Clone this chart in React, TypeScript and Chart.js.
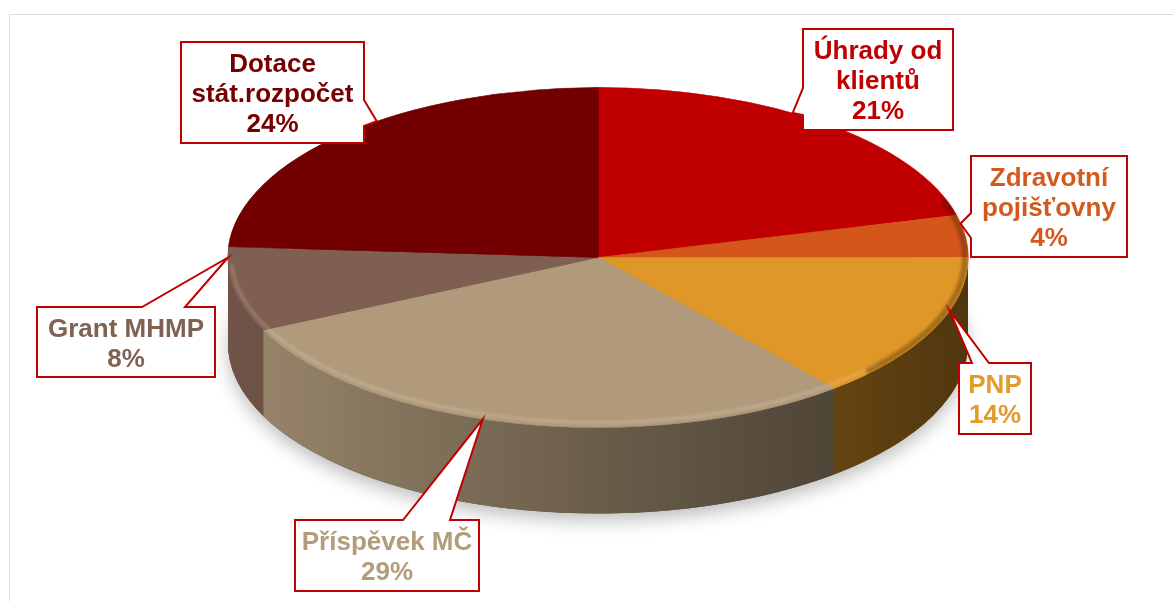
import React, { useEffect, useRef } from "react";
import { Chart, registerables } from "chart.js";

Chart.register(...registerables);

// ---- data ----
const categoryLines: string[][] = [
  ["Úhrady od", "klientů"],
  ["Zdravotní", "pojišťovny"],
  ["PNP"],
  ["Příspěvek MČ"],
  ["Grant MHMP"],
  ["Dotace", "stát.rozpočet"],
];
const shares = [21, 4, 14, 29, 8, 24];
const percentLabels = ["21%", "4%", "14%", "29%", "8%", "24%"];
const sliceColors = ["#C00000", "#D4561A", "#DF9727", "#B09A7B", "#7F5F51", "#720000"];
const labelColors = ["#C00000", "#D35A1E", "#E39B2E", "#B39C7C", "#806252", "#760000"];

// ---- layout (canvas pixels) ----
const PIE = { cx: 590, cy: 249.5, rx: 370, ry: 170, depth: 86 };
type Callout = { box: [number, number, number, number]; side: "left" | "right" | "top"; base: [number, number]; tipAt: number };
const callouts: Callout[] = [
  { box: [795, 21, 945, 122], side: "left", base: [80, 107], tipAt: 0.42 },
  { box: [963, 148, 1119, 249], side: "left", base: [205, 230], tipAt: 0.2 },
  { box: [951, 355, 1023, 426], side: "top", base: [964, 981], tipAt: 0.36 },
  { box: [287, 512, 471, 583], side: "top", base: [395, 442], tipAt: 0.553 },
  { box: [29, 299, 207, 369], side: "top", base: [134, 177], tipAt: 0.875 },
  { box: [173, 34, 356, 135], side: "right", base: [92, 118], tipAt: 0.575 },
];
const FONT = "bold 26px 'Liberation Sans', Arial, sans-serif";
const LINE_H = 30;
const W = 1165;
const H = 593;

function ellipsePath(ctx: CanvasRenderingContext2D, cx: number, cy: number, rx: number, ry: number, a1 = 0, a2 = Math.PI * 2, ccw = false) {
  ctx.ellipse(cx, cy, rx, ry, 0, a1, a2, ccw);
}

const pie3d = {
  id: "pie3d",
  beforeDraw(chart: any) {
    const ctx = chart.ctx as CanvasRenderingContext2D;
    ctx.save();
    ctx.strokeStyle = "#D9D9D9";
    ctx.lineWidth = 1;
    ctx.beginPath();
    ctx.moveTo(1.5, chart.height + 5);
    ctx.lineTo(1.5, 6.5);
    ctx.lineTo(chart.width + 5, 6.5);
    ctx.stroke();
    ctx.restore();
  },
  beforeDatasetsDraw(chart: any) {
    const ctx = chart.ctx as CanvasRenderingContext2D;
    const arcs = chart.getDatasetMeta(0).data;
    const p0 = arcs[0].getProps(["x", "y", "outerRadius"], true);
    const R = p0.outerRadius;
    const { cx, cy, rx, ry, depth } = PIE;

    // drop shadow under the pie
    ctx.save();
    ctx.shadowColor = "rgba(0,0,0,0.26)";
    ctx.shadowBlur = 18;
    ctx.shadowOffsetY = 7;
    ctx.fillStyle = "#4a4036";
    ctx.beginPath();
    ellipsePath(ctx, cx, cy + depth, rx, ry);
    ctx.fill();
    ctx.restore();

    // side walls
    const grad = ctx.createLinearGradient(cx - rx, 0, cx + rx, 0);
    grad.addColorStop(0, "rgba(0,0,0,0.12)");
    grad.addColorStop(0.5, "rgba(0,0,0,0.40)");
    grad.addColorStop(1, "rgba(0,0,0,0.64)");
    arcs.forEach((arc: any, i: number) => {
      const { startAngle, endAngle } = arc.getProps(["startAngle", "endAngle"], true);
      for (const k of [-2 * Math.PI, 0, 2 * Math.PI]) {
        const lo = Math.max(startAngle + k, 0);
        const hi = Math.min(endAngle + k, Math.PI);
        if (hi <= lo) continue;
        ctx.beginPath();
        ellipsePath(ctx, cx, cy, rx, ry, lo, hi, false);
        ellipsePath(ctx, cx, cy + depth, rx, ry, hi, lo, true);
        ctx.closePath();
        ctx.fillStyle = sliceColors[i];
        ctx.fill();
        ctx.fillStyle = grad;
        ctx.fill();
      }
    });

    // map the library's circular pie onto the tilted ellipse
    ctx.save();
    ctx.translate(cx, cy);
    ctx.scale(rx / R, ry / R);
    ctx.translate(-p0.x, -p0.y);
  },
  afterDatasetsDraw(chart: any) {
    const ctx = chart.ctx as CanvasRenderingContext2D;
    ctx.restore();
    const { cx, cy, rx, ry } = PIE;
    const arcs = chart.getDatasetMeta(0).data;

    // rim highlight on front edge
    ctx.save();
    ctx.filter = "blur(1.5px)";
    ctx.strokeStyle = "rgba(255,240,220,0.25)";
    ctx.lineWidth = 2.5;
    ctx.beginPath();
    ellipsePath(ctx, cx, cy - 2, rx - 3, ry - 3, 0.7, Math.PI - 0.05);
    ctx.stroke();
    ctx.strokeStyle = "rgba(40,20,0,0.32)";
    ctx.lineWidth = 6;
    ctx.beginPath();
    ellipsePath(ctx, cx, cy, rx - 3, ry - 3, -0.35, 0.75);
    ctx.stroke();
    ctx.restore();

    // callouts
    ctx.save();
    ctx.font = FONT;
    ctx.textAlign = "center";
    ctx.textBaseline = "alphabetic";
    callouts.forEach((c, i) => {
      const { startAngle, endAngle } = arcs[i].getProps(["startAngle", "endAngle"], true);
      const a = startAngle + (endAngle - startAngle) * c.tipAt;
      const tip = { x: cx + rx * Math.cos(a), y: cy + ry * Math.sin(a) };
      const [l, t, r, b] = c.box;
      const [b0, b1] = c.base;
      const pts: [number, number][] = [[l, t]];
      if (c.side === "top") pts.push([b0, t], [tip.x, tip.y], [b1, t]);
      pts.push([r, t]);
      if (c.side === "right") pts.push([r, b0], [tip.x, tip.y], [r, b1]);
      pts.push([r, b], [l, b]);
      if (c.side === "left") pts.push([l, b1], [tip.x, tip.y], [l, b0]);
      ctx.beginPath();
      pts.forEach(([x, y], k) => (k === 0 ? ctx.moveTo(x, y) : ctx.lineTo(x, y)));
      ctx.closePath();
      ctx.fillStyle = "#FFFFFF";
      ctx.fill();
      ctx.strokeStyle = "#C00000";
      ctx.lineWidth = 2;
      ctx.lineJoin = "miter";
      ctx.stroke();

      const lines = [...categoryLines[i], percentLabels[i]];
      ctx.fillStyle = labelColors[i];
      lines.forEach((ln, k) => ctx.fillText(ln, (l + r) / 2, t + LINE_H * (k + 1)));
    });
    ctx.restore();
  },
};

export default function App() {
  const ref = useRef<HTMLCanvasElement | null>(null);
  useEffect(() => {
    if (!ref.current) return;
    const chart = new Chart(ref.current, {
      type: "pie",
      data: {
        labels: categoryLines.map((l) => l.join(" ")),
        datasets: [
          {
            data: shares,
            backgroundColor: sliceColors,
            borderColor: sliceColors,
            borderWidth: 1,
            clip: false,
          } as any,
        ],
      },
      options: {
        animation: false,
        responsive: false,
        events: [],
        layout: { padding: 0 },
        plugins: { legend: { display: false }, tooltip: { enabled: false } },
      },
      plugins: [pie3d as any],
    });
    return () => chart.destroy();
  }, []);
  return (
    <div style={{ position: "fixed", left: 8, top: 8, width: W, height: H, overflow: "hidden" }}>
      <canvas ref={ref} width={W} height={H} style={{ display: "block" }} />
    </div>
  );
}
